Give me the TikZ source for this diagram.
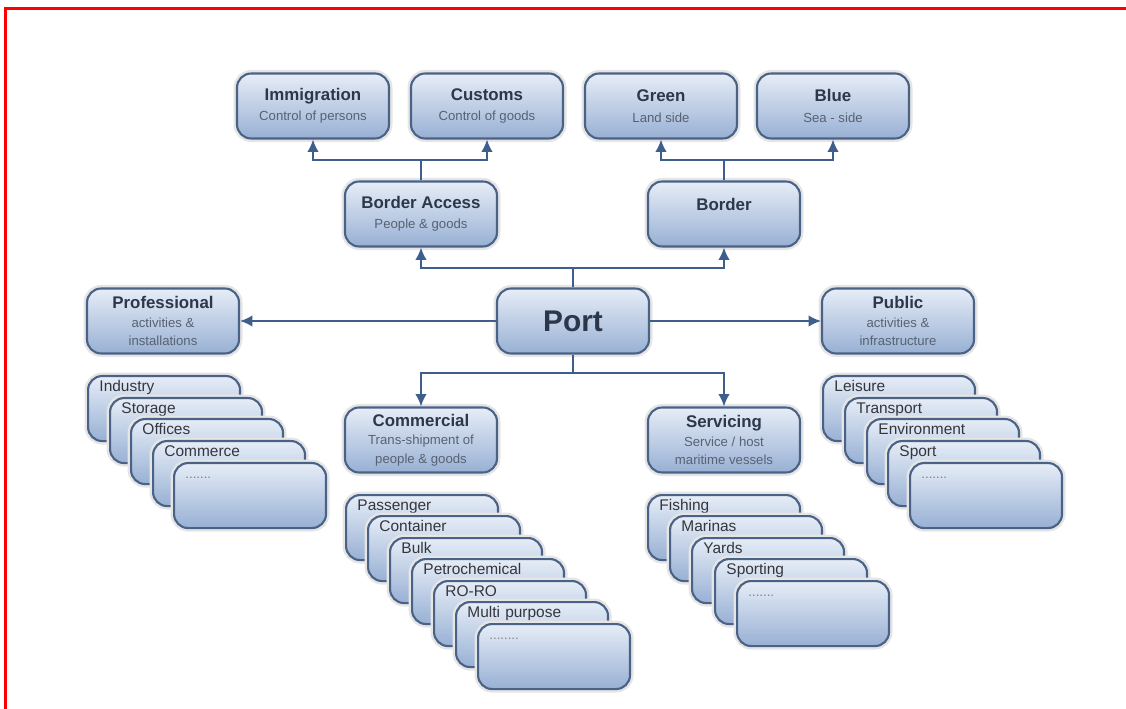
\documentclass[tikz,border=0pt]{standalone}
\usepackage{fontspec}
\setmainfont{Liberation Sans}
\usetikzlibrary{arrows.meta}
\definecolor{boxline}{RGB}{74,98,134}
\definecolor{boxtop}{RGB}{230,237,247}
\definecolor{boxbot}{RGB}{152,176,212}
\definecolor{arrowc}{RGB}{62,94,140}
\definecolor{titlec}{RGB}{44,56,74}
\definecolor{subc}{RGB}{88,98,114}
\definecolor{cardtxt}{RGB}{52,54,60}
\newcommand{\boxtitle}[1]{{\bfseries\fontsize{9.6}{11.5}\selectfont\color{titlec}#1}}
\newcommand{\moredots}[1]{{\fontsize{7.5}{8}\selectfont\color{gray}#1}}
\tikzset{box/.style={rectangle,draw=boxline,line width=1.2pt,rounded corners=8pt,
  top color=boxtop,bottom color=boxbot,preaction={draw=black!10,line width=4pt},
  minimum width=3.04cm,minimum height=1.3cm,inner sep=2pt,align=center,
  font=\fontsize{7.5}{10.6}\selectfont,text=subc}}
\tikzset{card/.style={box,anchor=north west,align=left,text width=73.5pt,
  inner xsep=6.5pt,inner ysep=1.2pt,text height=7.6pt,text depth=27pt,
  font=\fontsize{8.8}{10}\selectfont,text=cardtxt}}
\tikzset{link/.style={->,draw=arrowc,line width=1pt}}
\tikzset{line/.style={draw=arrowc,line width=1pt}}

\begin{document}
\begin{tikzpicture}[x=0.02cm,y=-0.02cm,>={Latex[length=7pt,width=6.5pt]}]
  \useasboundingbox (0,0) rectangle (1126,709);
  \draw[red,line width=1.2pt] (5.5,709) -- (5.5,8.5) -- (1126,8.5);

  % control boxes
  \node[box] (imm) at (313,106) {\boxtitle{Immigration}\\[1pt]Control of persons};
  \node[box] (cus) at (487,106) {\boxtitle{Customs}\\[1pt]Control of goods};
  \node[box] (grn) at (661,106) {\boxtitle{Green}\\[1pt]Land side};
  \node[box] (blu) at (833,106) {\boxtitle{Blue}\\[1pt]Sea - side};
  \node[box] (bac) at (421,214) {\boxtitle{Border Access}\\[1pt]People \& goods};
  \node[box] (bor) at (724,214) {\boxtitle{Border}\\[-3pt]\strut};

  % port and its branches
  \node[box] (prt) at (573,321) {{\bfseries\fontsize{17}{20}\selectfont\color{titlec}Port}};
  \node[box] (pro) at (163,321) {\boxtitle{Professional}\\activities \&\\installations};
  \node[box] (pub) at (898,321) {\boxtitle{Public}\\activities \&\\infrastructure};
  \node[box] (com) at (421,440) {\boxtitle{Commercial}\\Trans-shipment of\\people \& goods};
  \node[box] (ser) at (724,440) {\boxtitle{Servicing}\\Service / host\\maritime vessels};

  \coordinate (bacj) at (421,160);
  \coordinate (borj) at (724,160);
  \coordinate (upj) at (573,268);
  \coordinate (dnj) at (573,373);

  \draw[line] (bac) -- (bacj);
  \draw[link] (bacj) -| (imm);
  \draw[link] (bacj) -| (cus);
  \draw[line] (bor) -- (borj);
  \draw[link] (borj) -| (grn);
  \draw[link] (borj) -| (blu);
  \draw[line] (prt) -- (upj);
  \draw[link] (upj) -| (bac);
  \draw[link] (upj) -| (bor);
  \draw[link] (prt) -- (pro);
  \draw[link] (prt) -- (pub);
  \draw[line] (prt) -- (dnj);
  \draw[link] (dnj) -| (com);
  \draw[link] (dnj) -| (ser);

  % professional stack
  \node[card] (ind) at (87,375) {Industry};
  \node[card] (sto) at (109,397) {Storage};
  \node[card] (off) at (130,418) {Offices};
  \node[card] (cme) at (152,440) {Commerce};
  \node[card] (promore) at (173,462) {\moredots{.......}};

  % commercial stack
  \node[card] (pas) at (345,494) {Passenger};
  \node[card] (con) at (367,515) {Container};
  \node[card] (blk) at (389,537) {Bulk};
  \node[card] (pet) at (411,558) {Petrochemical};
  \node[card] (ror) at (433,580) {RO-RO};
  \node[card] (mul) at (455,601) {Multi purpose};
  \node[card] (commore) at (477,623) {\moredots{........}};

  % servicing stack
  \node[card] (fis) at (647,494) {Fishing};
  \node[card] (mar) at (669,515) {Marinas};
  \node[card] (yar) at (691,537) {Yards};
  \node[card] (spo) at (714,558) {Sporting};
  \node[card] (sermore) at (736,580) {\moredots{.......}};

  % public stack
  \node[card] (lei) at (822,375) {Leisure};
  \node[card] (tra) at (844,397) {Transport};
  \node[card] (env) at (866,418) {Environment};
  \node[card] (spt) at (887,440) {Sport};
  \node[card] (pubmore) at (909,462) {\moredots{.......}};
\end{tikzpicture}
\end{document}
